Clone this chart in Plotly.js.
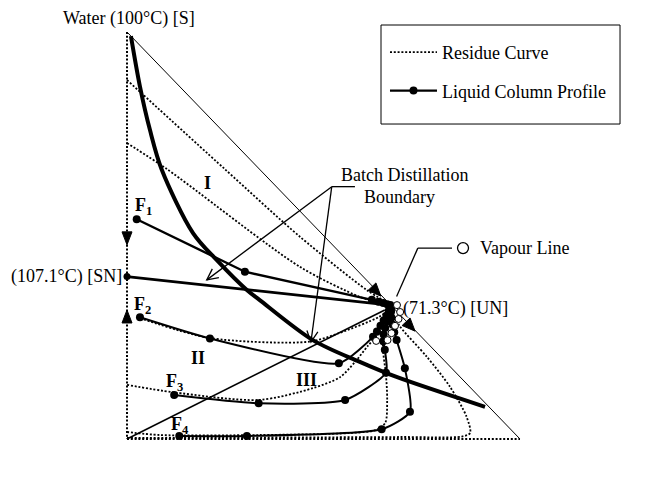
<!DOCTYPE html>
<html>
<head>
<meta charset="utf-8">
<script src="https://cdn.plot.ly/plotly-3.0.1.min.js"></script>
<style>html,body{margin:0;padding:0;background:#fff}#chart{width:665px;height:479px}</style>
</head>
<body>
<div id="chart"></div>
<script>
// Composition space drawn as a right triangle:
// x = propyl formate fraction, y = water fraction, formic acid at the origin.
const hypX = [0, 1];
const hypY = [1, 0];
// residue curves lying on the binary edges (water / formic acid and formic acid / propyl formate)
const edgeLeftX = [0, 0];
const edgeLeftY = [1, 0];
const edgeBottomX = [0, 1];
const edgeBottomY = [0, 0];

// Batch distillation boundary (thick curve)
const boundaryX = [0.010, 0.033, 0.0585, 0.088, 0.168, 0.228, 0.305, 0.337, 0.473, 0.591, 0.684, 0.911];
const boundaryY = [0.990, 0.866, 0.759, 0.663, 0.506, 0.440, 0.366, 0.342, 0.243, 0.190, 0.153, 0.079];

// Straight boundary from the saddle azeotrope (107.1 °C) to the unstable node (71.3 °C)
const snLineX = [0, 0.669];
const snLineY = [0.399, 0.329];
// Straight line from the formic acid vertex to the unstable node
const faLineX = [0, 0.656];
const faLineY = [0, 0.317];

// Residue curves (dotted)
const res1X = [0, 0.249, 0.440, 0.610, 0.664];
const res1Y = [0.882, 0.663, 0.497, 0.366, 0.334];
const res2X = [0, 0.102, 0.440, 0.593, 0.664];
const res2Y = [0.727, 0.663, 0.423, 0.349, 0.327];
const res3X = [0.033, 0.211, 0.463, 0.539, 0.641, 0.667];
const res3Y = [0.297, 0.248, 0.239, 0.260, 0.300, 0.319];
const res4X = [0, 0.117, 0.336, 0.473, 0.542, 0.580, 0.613, 0.639, 0.664];
const res4Y = [0.133, 0.115, 0.096, 0.125, 0.152, 0.189, 0.229, 0.258, 0.312];
const res5X = [0, 0.084, 0.338, 0.567, 0.634, 0.657, 0.662, 0.659, 0.651, 0.664];
const res5Y = [0.0172, 0.0098, 0.0098, 0.0147, 0.0221, 0.0393, 0.0958, 0.157, 0.231, 0.305];
const res6X = [0, 0.695, 0.852, 0.873, 0.864, 0.822, 0.763, 0.695, 0.674];
const res6Y = [0.0025, 0.0049, 0.0061, 0.0147, 0.0548, 0.128, 0.202, 0.276, 0.312];

// Liquid column profiles (stage compositions)
const prof1X = [0.0247, 0.300, 0.623, 0.640, 0.652, 0.662, 0.670];
const prof1Y = [0.540, 0.411, 0.342, 0.337, 0.334, 0.331, 0.329];
const prof2X = [0.033, 0.211, 0.539, 0.626, 0.636, 0.645, 0.653, 0.660, 0.666, 0.671];
const prof2Y = [0.299, 0.247, 0.186, 0.251, 0.264, 0.278, 0.291, 0.303, 0.315, 0.325];
const prof3X = [0.120, 0.335, 0.555, 0.659, 0.656, 0.652, 0.653, 0.657, 0.662, 0.667, 0.671];
const prof3Y = [0.108, 0.0877, 0.0958, 0.163, 0.219, 0.240, 0.257, 0.273, 0.289, 0.304, 0.318];
const prof4X = [0.133, 0.305, 0.648, 0.720, 0.707, 0.686, 0.680, 0.676, 0.673, 0.672, 0.673];
const prof4Y = [0.0074, 0.0074, 0.0238, 0.067, 0.174, 0.243, 0.262, 0.281, 0.298, 0.313, 0.325];

// Saddle azeotrope point on the water / formic acid edge
const snX = [0];
const snY = [0.399];

// Vapour line (open circles)
const vapX = [0.687, 0.695, 0.691, 0.682, 0.673, 0.663, 0.634];
const vapY = [0.329, 0.312, 0.295, 0.278, 0.260, 0.243, 0.241];

const serif = 'Liberation Serif, Times New Roman, serif';
const black = '#000';
const dotted = '2px,1.8px';
const traces = [];

traces.push({x: hypX, y: hypY, mode: 'lines', line: {color: black, width: 1}, showlegend: false, hoverinfo: 'skip'});
[[edgeLeftX, edgeLeftY], [edgeBottomX, edgeBottomY]].forEach(e => traces.push({
  x: e[0], y: e[1], mode: 'lines', line: {color: black, width: 2, dash: dotted}, showlegend: false, hoverinfo: 'skip'}));

const residues = [[res1X, res1Y], [res2X, res2Y], [res3X, res3Y], [res4X, res4Y], [res5X, res5Y], [res6X, res6Y]];
residues.forEach((r, i) => traces.push({
  x: r[0], y: r[1], mode: 'lines', name: 'Residue Curve',
  line: {color: black, width: 1.8, dash: dotted, shape: 'spline', smoothing: 0.8},
  showlegend: i === 0, legendgroup: 'res', hoverinfo: 'skip'
}));

traces.push({x: faLineX, y: faLineY, mode: 'lines', line: {color: black, width: 1.6}, showlegend: false, hoverinfo: 'skip'});
traces.push({x: snLineX, y: snLineY, mode: 'lines', line: {color: black, width: 2.6}, showlegend: false, hoverinfo: 'skip'});
traces.push({x: snX, y: snY, mode: 'markers', marker: {color: black, size: 7}, showlegend: false, hoverinfo: 'skip'});
traces.push({x: boundaryX, y: boundaryY, mode: 'lines', line: {color: black, width: 4, shape: 'spline', smoothing: 0.9}, showlegend: false, hoverinfo: 'skip'});

const profiles = [[prof1X, prof1Y, 'linear'], [prof2X, prof2Y, 'spline'], [prof3X, prof3Y, 'spline'], [prof4X, prof4Y, 'spline']];
profiles.forEach((p, i) => traces.push({
  x: p[0], y: p[1], mode: 'lines+markers', name: 'Liquid Column Profile',
  line: {color: black, width: i === 0 ? 2.4 : 2, shape: p[2], smoothing: 0.6},
  marker: {color: black, size: 8},
  showlegend: i === 0, legendgroup: 'prof', hoverinfo: 'skip'
}));

traces.push({x: vapX, y: vapY, mode: 'markers', name: 'Vapour Line',
  marker: {color: '#fff', size: 7, line: {color: black, width: 1}}, showlegend: false, hoverinfo: 'skip'});
// key circle beside the "Vapour Line" label
traces.push({x: [0.855], y: [0.469], mode: 'markers', marker: {color: '#fff', size: 11, line: {color: black, width: 1.3}},
  showlegend: false, hoverinfo: 'skip'});

function txt(text, x, y, xa, ya, bold) {
  return {x: x, y: y, xref: 'x', yref: 'y', text: bold ? '<b>' + text + '</b>' : text, showarrow: false,
    xanchor: xa, yanchor: ya, font: {family: serif, size: 18, color: black}};
}

const annotations = [
  txt('Water (100°C) [S]', 0.005, 1.032, 'center', 'middle'),
  txt('Formic Acid (110.6 °C) [S]', 0.027, -0.068, 'center', 'middle'),
  txt('Propyl Formate (80.8 °C) [S]', 1.066, -0.072, 'center', 'middle'),
  txt('(107.1°C) [SN]', -0.008, 0.399, 'right', 'middle'),
  txt('(71.3°C) [UN]', 0.697, 0.321, 'left', 'middle'),
  txt('Vapour Line', 0.893, 0.469, 'left', 'middle'),
  txt('Batch Distillation', 0.707, 0.649, 'center', 'middle'),
  txt('Boundary', 0.597, 0.594, 'left', 'middle'),
  txt('I', 0.204, 0.628, 'center', 'middle', true),
  txt('II', 0.181, 0.198, 'center', 'middle', true),
  txt('III', 0.457, 0.145, 'center', 'middle', true),
  txt('F<sub>1</sub>', 0.016, 0.572, 'left', 'middle', true),
  txt('F<sub>2</sub>', 0.013, 0.327, 'left', 'middle', true),
  txt('F<sub>3</sub>', 0.095, 0.138, 'left', 'middle', true),
  txt('F<sub>4</sub>', 0.107, 0.034, 'left', 'middle', true)
];

// arrowheads as shape paths (pixel sizes converted through the axis scale)
const PX = 393, PY = 407;
function head(tipX, tipY, fromX, fromY, len, half, filled) {
  let dx = (tipX - fromX) * PX, dy = (tipY - fromY) * PY;
  const L = Math.hypot(dx, dy); dx /= L; dy /= L;
  const bx = tipX * PX - dx * len, by = tipY * PY - dy * len;
  const p1 = [(bx - dy * half) / PX, (by + dx * half) / PY];
  const p2 = [(bx + dy * half) / PX, (by - dx * half) / PY];
  const path = 'M' + p1[0] + ',' + p1[1] + 'L' + tipX + ',' + tipY + 'L' + p2[0] + ',' + p2[1] + (filled ? 'Z' : '');
  return {type: 'path', xref: 'x', yref: 'y', path: path,
    line: {color: black, width: filled ? 1 : 1.3}, fillcolor: filled ? black : 'rgba(0,0,0,0)'};
}
function seg(x0, y0, x1, y1) {
  return {type: 'line', xref: 'x', yref: 'y', x0: x0, y0: y0, x1: x1, y1: y1, line: {color: black, width: 1.3}};
}

const shapes = [
  // legend frame
  {type: 'rect', xref: 'paper', yref: 'paper', x0: 0.6328, x1: 1.1848, y0: 0.7494, y1: 0.9709,
    line: {color: black, width: 1}, fillcolor: 'rgba(0,0,0,0)'},
  // "Batch Distillation Boundary" pointers
  seg(0.521, 0.620, 0.580, 0.620),
  seg(0.521, 0.620, 0.203, 0.391),
  seg(0.521, 0.620, 0.468, 0.238),
  head(0.203, 0.391, 0.521, 0.620, 11, 5.5, false),
  head(0.468, 0.238, 0.521, 0.620, 11, 5.5, false),
  // "Vapour Line" pointer
  seg(0.740, 0.469, 0.827, 0.469),
  seg(0.740, 0.469, 0.686, 0.350),
  // direction arrows on the edges
  head(0, 0.477, 0, 0.6, 13, 5, true),
  head(0, 0.317, 0, 0.2, 13, 5, true),
  head(0.646, 0.351, 0.5, 0.5, 13, 5.5, true),
  head(0.733, 0.265, 0.5, 0.5, 13, 5.5, true)
];

const layout = {
  width: 665, height: 479,
  margin: {l: 107, r: 125, t: 12, b: 20},
  paper_bgcolor: '#fff', plot_bgcolor: '#fff',
  xaxis: {range: [-20 / 393, 413 / 393], visible: false, fixedrange: true},
  yaxis: {range: [-20 / 407, 427 / 407], visible: false, fixedrange: true},
  showlegend: true,
  legend: {x: 0.6420, y: 0.9508, xanchor: 'left', yanchor: 'top', borderwidth: 0,
    bgcolor: 'rgba(0,0,0,0)', font: {family: serif, size: 18, color: black}, itemwidth: 47, tracegroupgap: 12,
    traceorder: 'grouped'},
  annotations: annotations,
  shapes: shapes,
  font: {family: serif, color: black}
};

Plotly.newPlot('chart', traces, layout, {staticPlot: true, displayModeBar: false});
</script>
</body>
</html>
